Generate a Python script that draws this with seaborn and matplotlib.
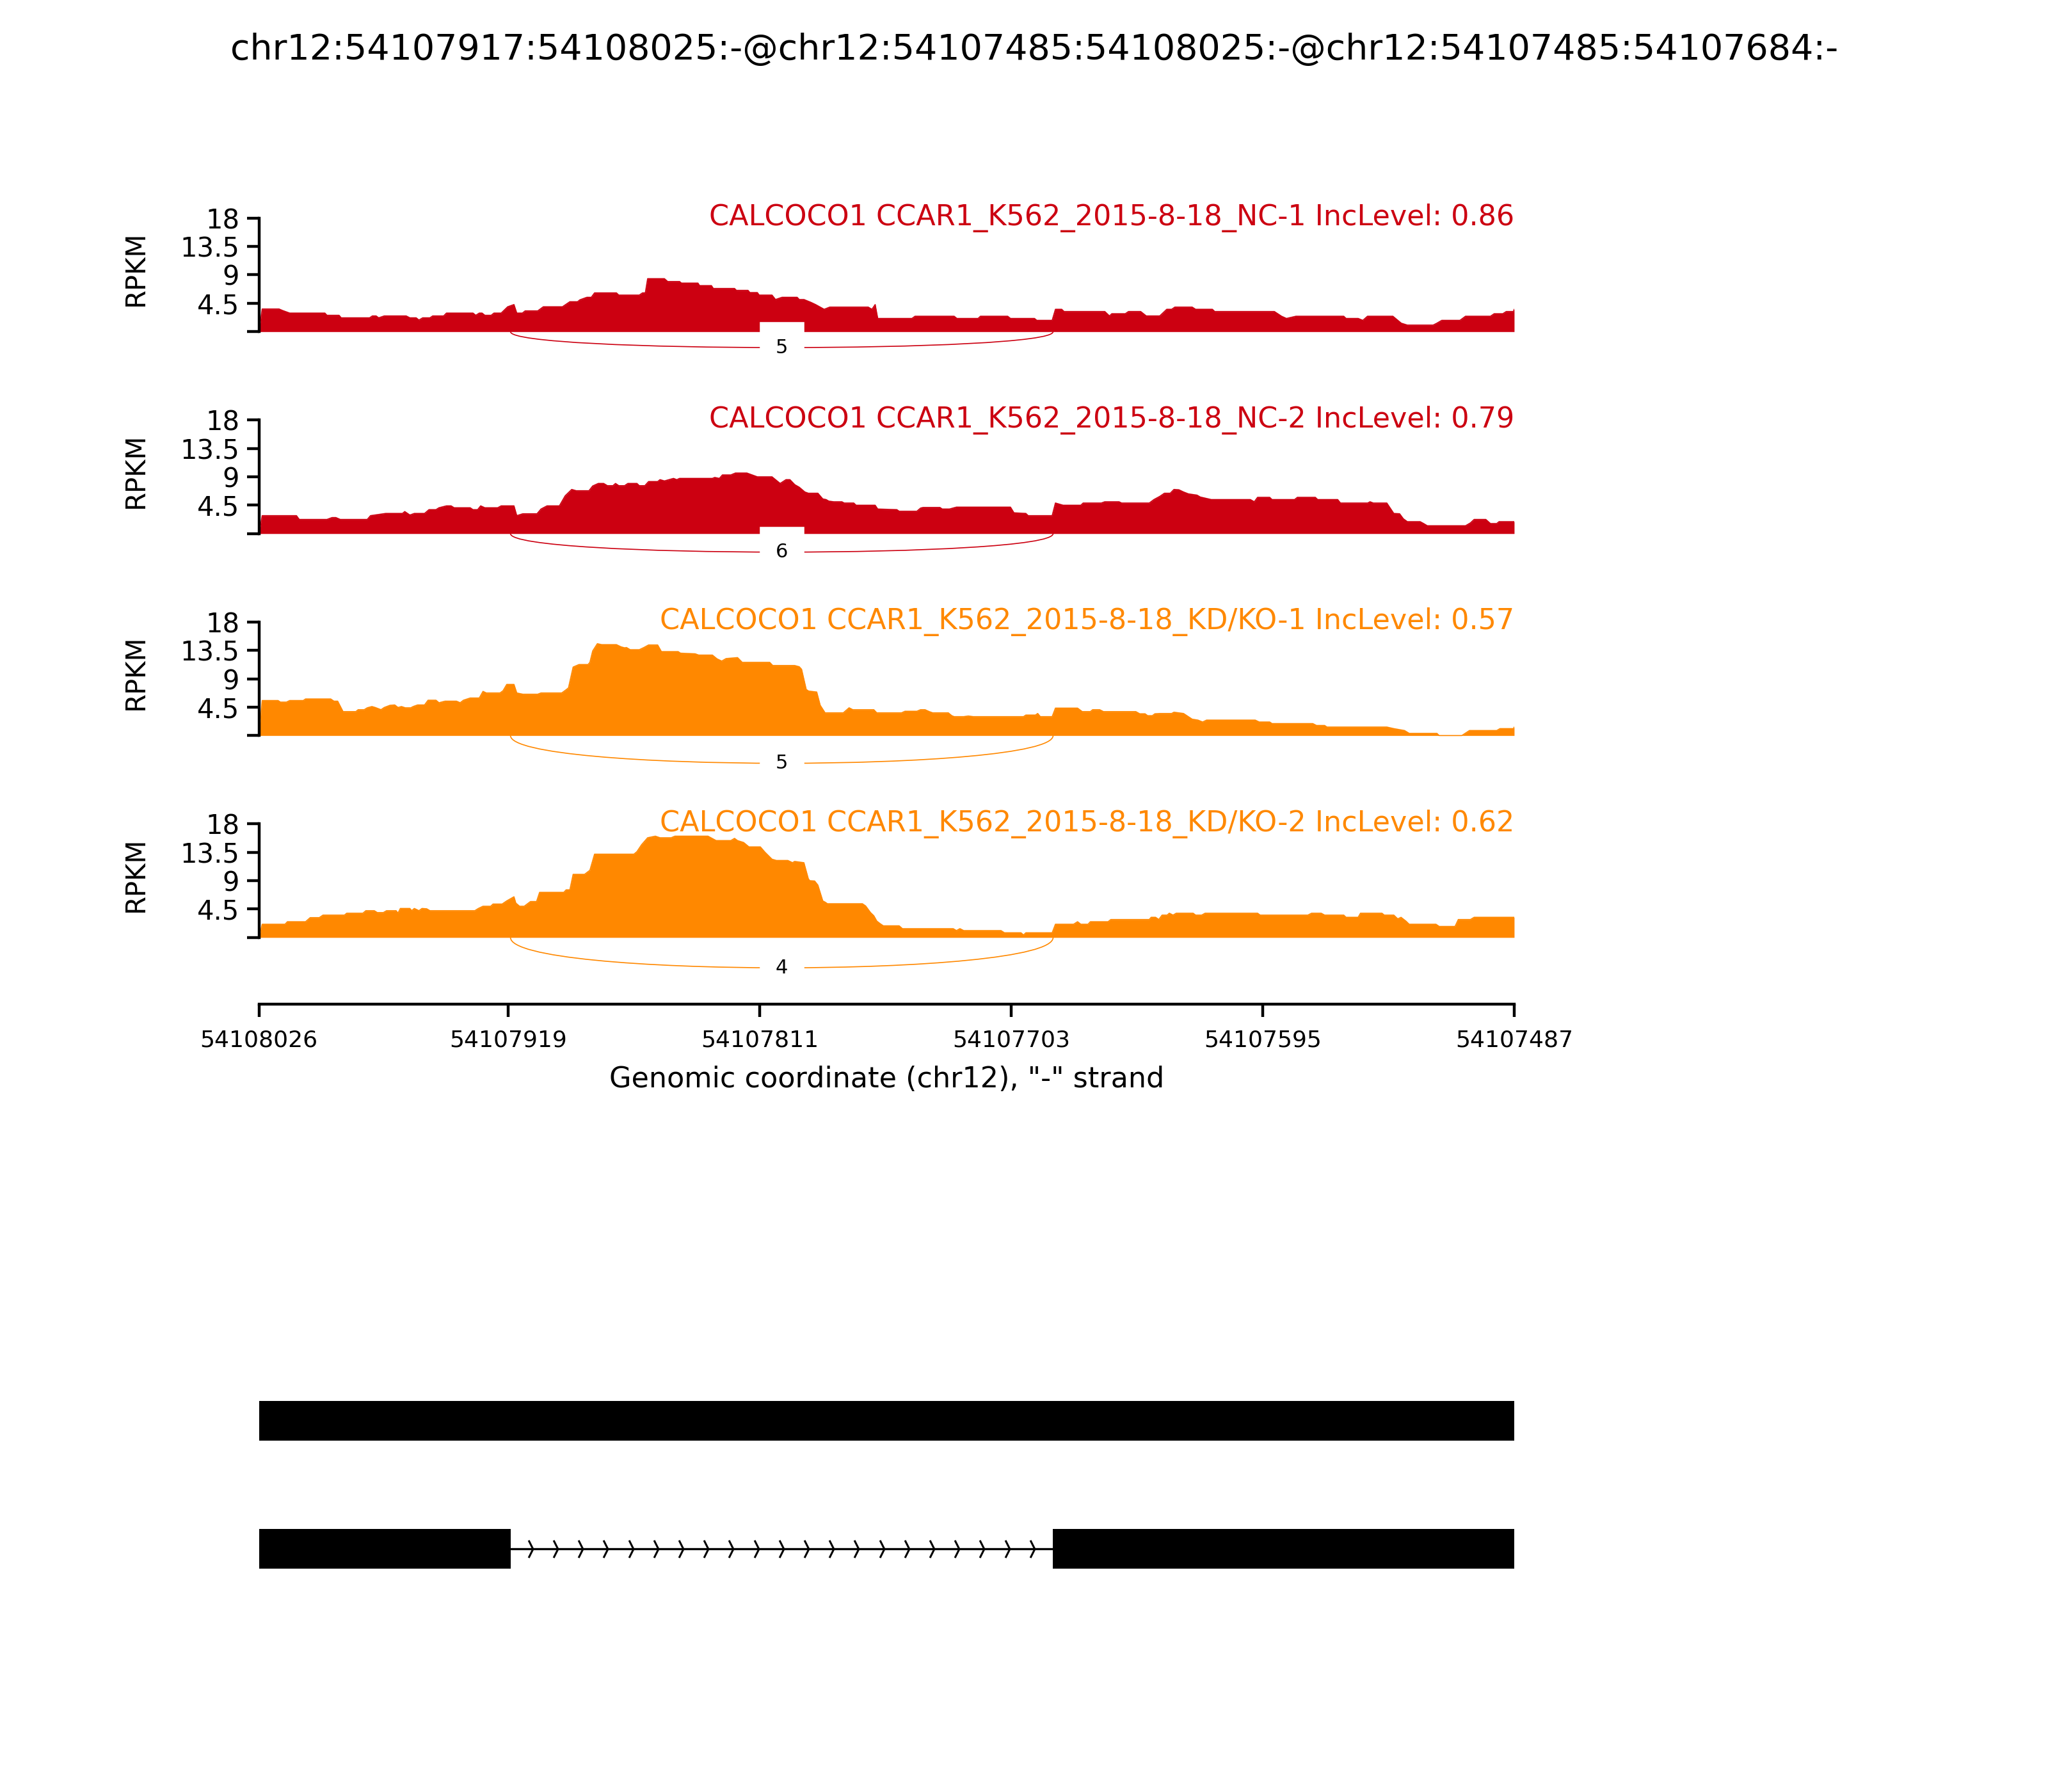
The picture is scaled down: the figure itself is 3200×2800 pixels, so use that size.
import numpy as np
import matplotlib
matplotlib.use("Agg")
import matplotlib.pyplot as plt
import seaborn as sns
from matplotlib.path import Path
from matplotlib.patches import PathPatch

# Region shown (minus strand, so the left side is the higher coordinate)
region_left = 54108026
region_right = 54107487
chrom = "chr12"
gene = "CALCOCO1"

event_title = "chr12:54107917:54108025:-@chr12:54107485:54108025:-@chr12:54107485:54107684:-"

sample_names = ["CCAR1_K562_2015-8-18_NC-1", "CCAR1_K562_2015-8-18_NC-2",
                "CCAR1_K562_2015-8-18_KD/KO-1", "CCAR1_K562_2015-8-18_KD/KO-2"]
inc_levels = [0.86, 0.79, 0.57, 0.62]
junction_counts = [5, 6, 5, 4]
arc_depth = [3.35, 3.9, 5.85, 6.4]
track_colors = ["#CC0011", "#CC0011", "#FF8800", "#FF8800"]

# spliced junction (upstream exon end -> downstream exon start)
junction = (54107918, 54107685)

# gene model: (left, right) pieces, in genomic coordinates
isoform_exons = [
    [(54108026, 54107918), (54107918, 54107685), (54107685, 54107487)],
    [(54108026, 54107918), (54107685, 54107487)],
]
introns = [[], [(54107918, 54107685)]]

x_tick_labels = ["54108026", "54107919", "54107811", "54107703", "54107595", "54107487"]
y_ticks = [0, 4.5, 9, 13.5, 18]
y_tick_labels = ["", "4.5", "9", "13.5", "18"]

# coverage: offset (bp from region_left) and RPKM
nc1_offset = [0, 1.4, 8.6, 10.2, 13.2, 28.3, 29.2, 34.4, 35.3, 47.5, 48.7, 50.3, 51.4, 53.8, 63.2, 64.8,
              67.5, 68.7, 70.3, 73.4, 74.6, 79.3, 80.5, 91.9, 93.1, 94.6, 95.8, 97, 99.7, 100.9, 104,
              106.8, 109.5, 110.7, 113.1, 114.3, 119.7, 122.1, 130.3, 131.9, 133.5, 136.8, 137.8, 140.8,
              142.7, 144.1, 153.5, 154.5, 163.3, 164.7, 165.9, 166.9, 174.1, 175.5, 180.6, 181.4, 188.5,
              189.2, 194.3, 195.1, 204.2, 205, 210, 210.8, 214, 214.8, 220.3, 221.8, 224.6, 231.1, 232,
              234, 235, 237, 239, 242.7, 245.1, 261.6, 263.2, 264.6, 265.7, 280.4, 281.7, 298.5, 299.7,
              308.8, 309.8, 321.5, 322.7, 333, 334, 340.6, 342, 344.7, 345.7, 363.2, 365.2, 366.2, 372,
              373.4, 378.6, 381, 386.8, 389.8, 391.9, 393.3, 400.7, 402.2, 409.4, 410.4, 436, 439.1,
              441.2, 445.3, 465.8, 466.8, 472, 474, 476, 486.9, 490.5, 493.1, 504.2, 505.8, 507.9, 515.7,
              518.1, 528.8, 530.4, 534.1, 535.6, 538.7, 539]
nc1_rpkm = [0, 3.6, 3.6, 3.35, 2.95, 2.95, 2.6, 2.6, 2.2, 2.2, 2.5, 2.5, 2.2, 2.5, 2.5, 2.2,
            2.2, 1.85, 2.2, 2.2, 2.5, 2.5, 2.95, 2.95, 2.6, 2.95, 2.95, 2.6, 2.6, 2.95, 2.95,
            3.95, 4.3, 2.95, 2.95, 3.3, 3.3, 3.95, 3.95, 4.35, 4.75, 4.75, 5.05, 5.45,
            5.45, 6.15, 6.15, 5.8, 5.8, 6.15, 6.15, 8.4, 8.4, 7.95, 7.95, 7.7, 7.7,
            7.3, 7.3, 6.85, 6.85, 6.55, 6.55, 6.2, 6.2, 5.8, 5.8, 5.1, 5.45, 5.45, 5.1,
            5.1, 4.95, 4.65, 4.3, 3.55, 3.9, 3.9, 3.55, 4.3, 2.1, 2.1, 2.45, 2.45, 2.1,
            2.1, 2.45, 2.45, 2.1, 2.1, 1.8, 1.8, 3.55, 3.55, 3.2, 3.2, 2.5, 2.85, 2.85,
            3.2, 3.2, 2.5, 2.5, 3.55, 3.55, 3.9, 3.9, 3.55, 3.55, 3.2, 3.2, 2.45,
            2.1, 2.45, 2.45, 2.1, 2.1, 1.8, 2.45, 2.45, 1.35, 1.05, 1.05, 1.35, 1.8, 1.8,
            2.45, 2.45, 2.85, 2.85, 3.2, 3.2, 3.55]

nc2_offset = [0, 1.4, 16.1, 17.3, 29.2, 31.4, 33, 34.9, 46.5, 47.9, 54.4, 61.6, 62.6, 64.8, 66.7, 71.1,
              73, 76, 77.3, 80.5, 82.5, 83.8, 90.7, 91.9, 93.9, 95.2, 97, 102.5, 104, 109.5, 110.7,
              113.3, 119.4, 121.1, 123.7, 129, 131.5, 134.3, 136.2, 141.7, 143.3, 145.7, 148, 149.6,
              152, 153.1, 154.5, 157, 158.4, 162.3, 163.3, 165.7, 167.3, 171.2, 172.2, 174.1, 176.1,
              178, 179.4, 180.6, 194.7, 195.7, 197.7, 199, 202.6, 204.6, 209.5, 211.4, 214, 220.3,
              223.8, 226.3, 228, 230.1, 232, 234.4, 235.9, 240, 242.1, 243.5, 244.7, 246.8, 250.3,
              251.3, 255.4, 256.4, 264.6, 265.7, 273.9, 274.9, 282.5, 284.1, 285.2, 292.4, 293.4,
              296.5, 299.5, 322.7, 324.2, 329.3, 330.3, 340.6, 342, 345.3, 352.9, 353.9, 361.7, 363.2,
              369.3, 370.4, 382.3, 384.3, 386.8, 388.8, 391.3, 392.9, 395, 397, 399.1, 402.8, 404.2,
              408.9, 425.7, 427.4, 428.8, 434, 435, 444.7, 445.9, 453.6, 454.6, 463.2, 464.4, 476.1,
              477.1, 478.5, 484.3, 487.3, 489.8, 491.4, 493.1, 498.6, 500.1, 501.7, 518.1, 520.2,
              521.8, 526.8, 528.8, 531.5, 532.5, 539]
nc2_rpkm = [0, 2.85, 2.85, 2.25, 2.25, 2.55, 2.55, 2.25, 2.25, 2.85, 3.2, 3.2, 3.5, 2.95, 3.2, 3.2,
            3.8, 3.8, 4.1, 4.4, 4.4, 4.1, 4.1, 3.8, 3.8, 4.4, 4.1, 4.1, 4.4, 4.4, 2.85,
            3.15, 3.15, 3.9, 4.4, 4.4, 6.0, 7.0, 6.8, 6.8, 7.55, 7.95, 7.95, 7.6,
            7.6, 7.95, 7.6, 7.6, 7.95, 7.95, 7.6, 7.6, 8.25, 8.25, 8.55, 8.35, 8.55,
            8.75, 8.55, 8.75, 8.75, 8.9, 8.75, 9.3, 9.3, 9.6, 9.6, 9.35, 9.0, 9.0,
            7.95, 8.55, 8.55, 7.75, 7.35, 6.6, 6.4, 6.4, 5.5, 5.4, 5.15, 5.05, 5.05,
            4.85, 4.85, 4.5, 4.5, 3.9, 3.8, 3.55, 3.55, 4.05, 4.15, 4.15, 3.9,
            3.9, 4.2, 4.2, 3.3, 3.2, 2.85, 2.85, 4.85, 4.5, 4.5, 4.85, 4.85, 5.05,
            5.05, 4.85, 4.85, 5.4, 5.9, 6.4, 6.4, 7.0, 6.95, 6.6, 6.3, 6.1, 5.8,
            5.4, 5.4, 5.05, 5.75, 5.75, 5.4, 5.4, 5.75, 5.75, 5.4, 5.4, 4.85, 4.85,
            5.05, 4.85, 4.85, 3.2, 3.15, 2.35, 1.9, 1.9, 1.6, 1.25, 1.25, 1.7,
            2.25, 2.25, 1.6, 1.6, 1.9, 1.9]

kd1_offset = [0, 1.4, 8.2, 9.2, 11.8, 13.2, 19, 20, 30.8, 32.2, 33.8, 36.1, 41.6, 42.6, 45.2, 46.5,
              48.5, 49.9, 52.4, 53.8, 56.3, 58.3, 59.7, 61.2, 62.8, 65.2, 66.2, 68.1, 71.1, 72.6, 76,
              77.3, 79.9, 84.8, 86.4, 87.8, 90.7, 94.6, 96.2, 97.6, 103.5, 104.8, 106.4, 109.5, 110.7,
              113.3, 119.7, 121.1, 130, 131.5, 132.9, 134.9, 137.4, 141.3, 142.1, 143.3, 145.3, 147.2,
              153.5, 155.5, 157, 157.8, 159.4, 163.3, 165.3, 167.3, 171.2, 172.8, 180, 181, 187.3,
              188.8, 194.7, 196.7, 198.7, 200.6, 205.5, 207.5, 219.3, 220.6, 230, 232, 233, 235, 236,
              239.5, 241, 243.1, 250.9, 253.4, 255, 264, 265.3, 275.9, 277.4, 282.5, 284.1, 286,
              287.8, 289.3, 296, 297.5, 298.5, 302.6, 304.6, 306.7, 328.3, 329.3, 333.4, 334.4, 335.5,
              340.6, 342, 351.5, 353.5, 357, 358, 361, 362.6, 376.5, 378.2, 380.5, 381.6, 383.6, 384.7,
              386.8, 391.9, 392.9, 397, 400.7, 403.2, 405.2, 406.9, 427.8, 429.5, 434, 435, 452.5,
              454.1, 457.6, 458.6, 484.3, 487.3, 491.9, 493.9, 505.8, 506.8, 516.5, 519.8, 531.5,
              532.9, 538.7, 539]
kd1_rpkm = [0, 5.55, 5.55, 5.3, 5.3, 5.55, 5.55, 5.8, 5.8, 5.45, 5.45, 3.8, 3.8, 4.1, 4.1, 4.4,
            4.6, 4.45, 4.1, 4.45, 4.8, 4.85, 4.45, 4.6, 4.4, 4.4, 4.6, 4.85, 4.85, 5.6, 5.6,
            5.2, 5.45, 5.45, 5.2, 5.6, 5.95, 5.95, 7.0, 6.75, 6.75, 7.1, 8.1, 8.1, 6.75,
            6.55, 6.55, 6.75, 6.75, 7.15, 7.55, 10.85, 11.25, 11.25, 11.6, 13.4, 14.55, 14.4,
            14.4, 14.05, 13.9, 13.95, 13.6, 13.6, 13.95, 14.35, 14.35, 13.3, 13.3, 13.05, 12.95,
            12.75, 12.75, 12.15, 11.8, 12.2, 12.35, 11.6, 11.6, 11.1, 11.1, 10.9, 10.5, 7.3, 7.05,
            6.9, 4.8, 3.6, 3.6, 4.4, 4.1, 4.1, 3.6, 3.6, 3.85, 3.85, 4.1, 4.1,
            3.8, 3.6, 3.6, 3.15, 3.0, 3.0, 3.1, 3.0, 3.0, 3.25, 3.25, 3.5, 3.0,
            3.0, 4.35, 4.35, 3.8, 3.8, 4.1, 4.1, 3.8, 3.8, 3.45, 3.45, 3.15, 3.15, 3.45,
            3.5, 3.5, 3.7, 3.5, 2.6, 2.45, 2.15, 2.45, 2.45, 2.15, 2.15, 1.9, 1.9,
            1.6, 1.6, 1.35, 1.35, 1.1, 0.8, 0.35, 0.35, 0, 0, 0.8, 0.8,
            1.1, 1.1, 1.35]

kd2_offset = [0, 1.4, 11.2, 12.2, 20, 22, 25.9, 27.5, 36.7, 37.7, 44.6, 45.9, 49.5, 50.8, 53.4, 54.8,
              58.9, 59.7, 60.7, 64.8, 65.6, 66.7, 68.7, 70, 72, 73.4, 92.7, 94.2, 96.2, 99.5, 100.5,
              104.4, 106.4, 109.5, 110.3, 111.9, 113.9, 116.6, 119.2, 120.5, 130.9, 131.9, 133.5, 134.9,
              139.8, 142.1, 144.1, 161, 162.3, 164.3, 166.9, 170.2, 172.2, 177, 178.6, 192.8, 196.3,
              202.6, 204.2, 205.5, 208.1, 210.4, 215.3, 217.3, 220.3, 222.2, 227.1, 229.1, 230, 234,
              235.9, 236.5, 238.6, 240, 242.1, 243.1, 244.1, 259.1, 260.5, 262.6, 264, 265.3, 266.7,
              268.1, 274.9, 276.3, 298.1, 299.5, 301, 302.6, 318.6, 320.1, 327.2, 328.3, 329.3, 340.6,
              342, 349.8, 351.5, 352.9, 356, 357, 364.6, 365.8, 382.3, 383.1, 385, 386.4, 387.8, 390,
              390.9, 392.5, 393.9, 401.1, 402.2, 404.8, 406.3, 428.8, 429.9, 450.4, 452, 456.1, 457.6,
              465.8, 466.8, 472, 473, 482.2, 483.2, 487.3, 489, 490.4, 492.5, 493.9, 505.4, 506.8,
              513.6, 515, 520.2, 521.8, 539]
kd2_rpkm = [0, 2.1, 2.1, 2.5, 2.5, 3.15, 3.15, 3.55, 3.55, 3.85, 3.85, 4.25, 4.25, 3.95, 3.95, 4.25,
            4.25, 3.85, 4.6, 4.6, 4.25, 4.6, 4.25, 4.6, 4.55, 4.25, 4.25, 4.6, 4.95, 4.95, 5.3,
            5.3, 5.8, 6.45, 5.45, 4.95, 4.95, 5.7, 5.7, 7.15, 7.15, 7.55, 7.55, 10.0,
            10.0, 10.65, 13.2, 13.2, 13.6, 14.7, 15.8, 16.05, 15.8, 15.8, 16.05, 16.05, 15.35,
            15.35, 15.7, 15.35, 15.05, 14.35, 14.35, 13.5, 12.4, 12.2, 12.2, 11.85, 12.05, 11.85,
            9.3, 9.0, 8.95, 8.3, 5.8, 5.6, 5.35, 5.35, 5.0, 3.95, 3.45, 2.6, 2.2,
            1.85, 1.85, 1.4, 1.4, 1.1, 1.4, 1.1, 1.1, 0.75, 0.75, 0.4, 0.75, 0.75,
            2.1, 2.1, 2.5, 2.1, 2.1, 2.5, 2.5, 2.85, 2.85, 3.2, 3.2, 2.85, 3.55, 3.55,
            3.85, 3.55, 3.85, 3.85, 3.55, 3.55, 3.85, 3.85, 3.55, 3.55, 3.85, 3.85, 3.55,
            3.55, 3.2, 3.2, 3.85, 3.85, 3.55, 3.55, 2.95, 3.2, 2.6, 2.1, 2.1, 1.75,
            1.75, 2.85, 2.85, 3.2, 3.2]

coverage = [(nc1_offset, nc1_rpkm), (nc2_offset, nc2_rpkm),
            (kd1_offset, kd1_rpkm), (kd2_offset, kd2_rpkm)]

sns.set_theme(style="white")
plt.rcParams["font.family"] = ["DejaVu Sans"]
plt.rcParams["text.color"] = "black"
plt.rcParams["axes.edgecolor"] = "black"
plt.rcParams["axes.linewidth"] = 0.8
plt.rcParams["xtick.color"] = "black"
plt.rcParams["ytick.color"] = "black"
plt.rcParams["axes.labelcolor"] = "black"

fig = plt.figure(figsize=(8, 7), dpi=400)

# layout helpers (reference measured on a 1550 x 1356 grid)
W, H = 1550.0, 1356.0
def fx(px):
    return px / W
def fy(py):
    return 1 - py / H

left = fx(196)
width = fx(1146) - left
ymax = 18
ymin = -9
px_per_unit = 86.0 / ymax

fig.text(fx(783), fy(38), event_title, ha="center", va="center", fontsize=10)

for i, (offs, vals) in enumerate(coverage):
    base = 251 + 152.8 * i
    bottom_px = base - ymin * px_per_unit
    ax = fig.add_axes([left, fy(bottom_px), width, (ymax - ymin) * px_per_unit / H])
    x = region_left - np.array(offs)
    y = np.array(vals)
    col = track_colors[i]
    ax.fill_between(x, 0, y, color=col, lw=0)
    sns.lineplot(x=x, y=y, ax=ax, color=col, lw=0.3, estimator=None, sort=False)

    # junction arc below the baseline
    h = arc_depth[i]
    ss1, ss2 = junction
    pts = [(ss1, 0), (ss1, -h), (ss2, -h), (ss2, 0)]
    arc = Path(pts, [Path.MOVETO, Path.CURVE4, Path.CURVE4, Path.CURVE4])
    ax.add_patch(PathPatch(arc, ec=col, lw=0.3, fc="none"))
    ax.text((ss1 + ss2) / 2, -0.75 * h, str(junction_counts[i]), fontsize=5.5,
            ha="center", va="center", backgroundcolor="w", zorder=5)

    ax.text(region_right, ymax, f"{gene} {sample_names[i]} IncLevel: {inc_levels[i]:.2f}",
            ha="right", va="center", color=col, fontsize=8)

    ax.set_xlim(region_left, region_right)
    ax.set_ylim(ymin, ymax)
    ax.set_yticks(y_ticks)
    ax.set_yticklabels(y_tick_labels, fontsize=7.5)
    ax.set_xticks([])
    ax.set_ylabel("RPKM", fontsize=7.5)
    ax.yaxis.set_label_coords(-0.0874, (10 - ymin) / (ymax - ymin))
    for s in ["top", "right", "bottom"]:
        ax.spines[s].set_visible(False)
    ax.spines["left"].set_bounds(0, ymax)
    ax.tick_params(axis="y", direction="out", length=3.5, width=0.8, left=True, pad=2)

# genomic coordinate axis
ax_x = fig.add_axes([left, fy(760), width, 0.0005])
ax_x.set_xlim(region_left, region_right)
ax_x.set_xticks([int(t) for t in x_tick_labels])
ax_x.set_xticklabels(x_tick_labels, fontsize=6.5)
ax_x.set_yticks([])
for s in ["top", "right", "left"]:
    ax_x.spines[s].set_visible(False)
ax_x.tick_params(axis="x", direction="out", length=3.6, width=0.8, bottom=True, pad=3.5)
ax_x.set_xlabel(f'Genomic coordinate ({chrom}), "-" strand', fontsize=8, labelpad=4)

# gene model
ax_g = fig.add_axes([left, fy(1220), width, 190 / H])
ax_g.set_xlim(region_left, region_right)
ax_g.set_ylim(-0.495, 1.464)
ax_g.axis("off")
bar_h = 0.31
for row, (exons, ints) in enumerate(zip(isoform_exons, introns)):
    yc = 1 - row
    for a, b in exons:
        ax_g.barh(yc, b - a, left=a, height=bar_h, color="black", lw=0)
    for a, b in ints:
        ax_g.plot([a, b], [yc, yc], color="black", lw=0.6, zorder=1)
        off_a = region_left - a
        off_b = region_left - b
        chev = region_left - np.linspace(off_a + 8.6, off_b - 9.0, 21)
        ax_g.plot(chev, np.full(len(chev), yc), ls="none", color="black",
                  marker=[(-0.25, 1), (0.25, 0), (-0.25, -1)], markersize=4.9,
                  markerfacecolor="none", markeredgewidth=0.55)

fig.savefig("out.png", dpi=400)
